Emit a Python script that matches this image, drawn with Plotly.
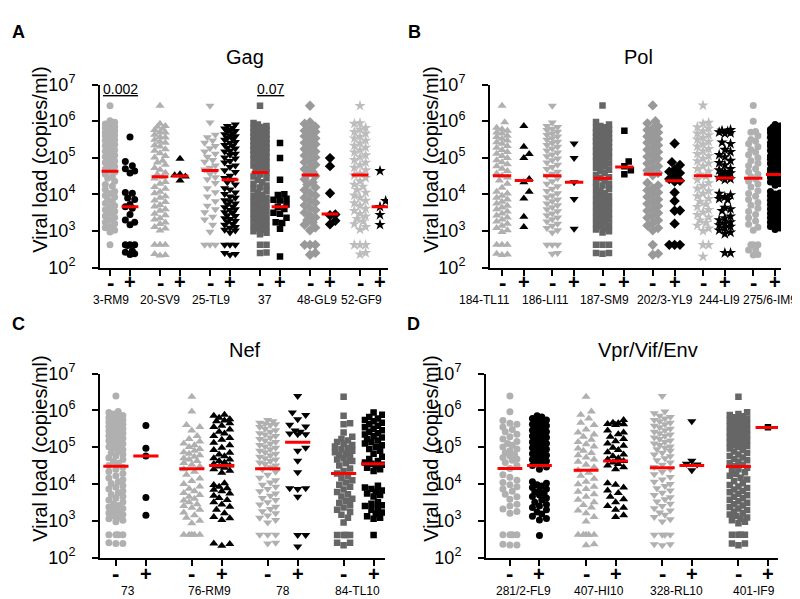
import plotly.graph_objects as go

# ---------------- DATA (viral load, log10 copies/ml) ----------------
gag_labels = ["3-RM9", "20-SV9", "25-TL9", "37", "48-GL9", "52-GF9"]
pol_labels = ["184-TL11", "186-LI11", "187-SM9", "202/3-YL9", "244-LI9", "275/6-IM9"]
nef_labels = ["73", "76-RM9", "78", "84-TL10"]
env_labels = ["281/2-FL9", "407-HI10", "328-RL10", "401-IF9"]
sign_labels = ["-", "+"]
y_tick_values = [1e2, 1e3, 1e4, 1e5, 1e6, 1e7]
y_tick_labels = ["10<sup>2</sup>", "10<sup>3</sup>", "10<sup>4</sup>", "10<sup>5</sup>", "10<sup>6</sup>", "10<sup>7</sup>"]
p_values_gag = ["0.002", "", "", "0.07", "", ""]

# Gag
gag_3RM9_neg = [6.42, 6.01, 5.97, 5.92, 5.90, 5.85, 5.81, 5.79, 5.74, 5.70, 5.68, 5.62, 5.60, 5.55, 5.49, 5.47, 5.41, 5.36, 5.33, 5.27, 5.21, 5.18, 5.11, 5.07, 5.03, 4.96, 4.91, 4.87, 4.80, 4.76, 4.69, 4.65, 4.61, 4.55, 4.48, 4.44, 4.36, 4.27, 4.22, 4.13, 4.08, 4.02, 3.97, 3.93, 3.85, 3.81, 3.76, 3.69, 3.66, 3.58, 3.53, 3.49, 3.41, 3.37, 3.31, 3.24, 3.20, 3.12, 3.09, 3.02, 2.97, 2.62]
gag_3RM9_pos = [5.57, 4.90, 4.78, 4.70, 4.64, 4.58, 4.05, 4.03, 3.90, 3.86, 3.72, 3.66, 3.62, 3.45, 3.30, 3.24, 3.17, 2.62, 2.62, 2.62, 2.60, 2.45, 2.42, 2.38, 2.36]
gag_20SV9_neg = [6.42, 5.93, 5.87, 5.85, 5.79, 5.76, 5.70, 5.69, 5.63, 5.57, 5.55, 5.49, 5.44, 5.41, 5.34, 5.31, 5.23, 5.19, 5.12, 5.05, 5.01, 4.92, 4.87, 4.81, 4.72, 4.67, 4.59, 4.54, 4.47, 4.43, 4.34, 4.29, 4.20, 4.15, 4.07, 4.03, 3.95, 3.91, 3.83, 3.79, 3.71, 3.67, 3.59, 3.55, 3.47, 3.43, 3.35, 3.31, 3.23, 3.19, 3.11, 3.07, 3.01, 2.62, 2.62, 2.62, 2.37, 2.34, 2.33]
gag_20SV9_pos = [4.97, 4.55, 4.52, 4.49, 4.38]
gag_25TL9_neg = [6.42, 5.96, 5.63, 5.56, 5.47, 5.41, 5.32, 5.26, 5.17, 5.11, 5.03, 4.94, 4.89, 4.79, 4.73, 4.68, 4.63, 4.56, 4.47, 4.41, 4.31, 4.17, 4.06, 3.94, 3.81, 3.69, 3.59, 3.51, 3.39, 3.31, 3.17, 2.98, 2.62, 2.62, 2.62]
gag_25TL9_pos = [5.91, 5.87, 5.82, 5.80, 5.76, 5.73, 5.72, 5.67, 5.64, 5.61, 5.59, 5.54, 5.51, 5.49, 5.43, 5.41, 5.35, 5.33, 5.27, 5.25, 5.19, 5.17, 5.11, 5.08, 5.01, 4.98, 4.91, 4.87, 4.79, 4.75, 4.66, 4.61, 4.51, 4.45, 4.40, 4.33, 4.27, 4.17, 4.13, 4.05, 4.01, 3.94, 3.91, 3.84, 3.81, 3.75, 3.73, 3.67, 3.65, 3.59, 3.57, 3.51, 3.49, 3.43, 3.41, 3.35, 3.33, 3.27, 3.25, 3.19, 3.17, 3.11, 3.09, 3.03, 3.01, 2.96, 2.62, 2.62, 2.62, 2.40, 2.37, 2.35]
gag_37_neg = [6.42, 5.95, 5.91, 5.87, 5.84, 5.81, 5.79, 5.75, 5.72, 5.69, 5.66, 5.63, 5.61, 5.57, 5.54, 5.51, 5.48, 5.45, 5.43, 5.39, 5.36, 5.33, 5.30, 5.27, 5.25, 5.21, 5.18, 5.15, 5.12, 5.09, 5.06, 5.02, 4.99, 4.95, 4.91, 4.87, 4.83, 4.79, 4.75, 4.71, 4.67, 4.63, 4.60, 4.54, 4.49, 4.44, 4.39, 4.33, 4.29, 4.24, 4.19, 4.13, 4.09, 4.04, 3.99, 3.95, 3.91, 3.87, 3.83, 3.79, 3.75, 3.71, 3.67, 3.63, 3.59, 3.55, 3.51, 3.47, 3.43, 3.39, 3.35, 3.31, 3.27, 3.23, 3.19, 3.15, 3.11, 3.07, 3.03, 2.99, 2.95, 2.91, 2.62, 2.62, 2.41, 2.40]
gag_37_pos = [5.40, 4.99, 4.40, 4.00, 3.98, 3.88, 3.85, 3.83, 3.72, 3.66, 3.60, 3.50, 3.47, 3.36, 3.24, 3.22, 3.06, 2.30]
gag_48GL9_neg = [6.42, 5.97, 5.93, 5.85, 5.80, 5.74, 5.71, 5.63, 5.59, 5.53, 5.47, 5.41, 5.37, 5.30, 5.24, 5.17, 5.13, 5.06, 5.01, 4.93, 4.88, 4.81, 4.74, 4.69, 4.61, 4.55, 4.50, 4.41, 4.33, 4.27, 4.19, 4.12, 4.04, 3.97, 3.91, 3.83, 3.77, 3.70, 3.63, 3.57, 3.50, 3.43, 3.37, 3.30, 3.23, 3.17, 3.09, 3.02, 2.62, 2.62, 2.62, 2.40, 2.35]
gag_48GL9_pos = [4.99, 4.77, 4.03, 3.45, 3.43, 3.28, 3.18]
gag_52GF9_neg = [6.42, 5.95, 5.93, 5.82, 5.77, 5.71, 5.66, 5.58, 5.53, 5.47, 5.40, 5.33, 5.28, 5.21, 5.15, 5.07, 5.02, 4.94, 4.87, 4.80, 4.73, 4.66, 4.57, 4.52, 4.45, 4.36, 4.27, 4.21, 4.12, 4.05, 3.97, 3.91, 3.83, 3.76, 3.69, 3.61, 3.55, 3.47, 3.40, 3.33, 3.26, 3.19, 3.11, 3.04, 2.62, 2.62, 2.62, 2.40, 2.36]
gag_52GF9_pos = [4.64, 3.82, 3.66, 3.44, 3.17]
gag_medians = [4.63, 3.66, 4.48, 4.50, 4.65, 4.40, 4.60, 3.66, 4.53, 3.46, 4.53, 3.66]

# Pol
pol_184_neg = [6.42, 5.97, 5.82, 5.78, 5.74, 5.69, 5.66, 5.60, 5.57, 5.52, 5.47, 5.42, 5.38, 5.32, 5.27, 5.21, 5.16, 5.11, 5.05, 4.99, 4.93, 4.88, 4.82, 4.77, 4.70, 4.64, 4.57, 4.51, 4.46, 4.38, 4.29, 4.18, 4.07, 4.02, 3.96, 3.91, 3.86, 3.80, 3.75, 3.69, 3.64, 3.59, 3.53, 3.48, 3.42, 3.37, 3.31, 3.26, 3.20, 3.14, 3.08, 3.02, 2.97, 2.62, 2.62, 2.62, 2.38, 2.36, 2.34]
pol_184_pos = [5.87, 5.30, 5.10, 4.99, 4.42, 4.33, 4.07, 3.89, 3.39, 3.11]
pol_186_neg = [6.42, 5.96, 5.87, 5.84, 5.79, 5.76, 5.71, 5.66, 5.62, 5.58, 5.53, 5.49, 5.44, 5.40, 5.35, 5.30, 5.25, 5.20, 5.14, 5.09, 5.04, 4.98, 4.93, 4.87, 4.81, 4.75, 4.69, 4.62, 4.56, 4.51, 4.44, 4.36, 4.29, 4.22, 4.15, 4.09, 4.03, 3.97, 3.92, 3.86, 3.81, 3.75, 3.70, 3.65, 3.59, 3.54, 3.48, 3.43, 3.37, 3.32, 3.26, 3.20, 3.14, 3.08, 3.02, 2.96, 2.62, 2.62, 2.62, 2.40, 2.38]
pol_186_pos = [5.39, 4.99, 4.33, 3.87, 3.06]
pol_187_neg = [6.43, 5.98, 5.91, 5.87, 5.83, 5.81, 5.77, 5.75, 5.71, 5.69, 5.66, 5.62, 5.60, 5.57, 5.53, 5.51, 5.47, 5.45, 5.42, 5.38, 5.36, 5.32, 5.29, 5.25, 5.22, 5.18, 5.15, 5.12, 5.08, 5.04, 5.01, 4.97, 4.92, 4.89, 4.84, 4.81, 4.76, 4.72, 4.67, 4.63, 4.58, 4.53, 4.47, 4.44, 4.38, 4.34, 4.28, 4.24, 4.18, 4.14, 4.09, 4.04, 4.00, 3.95, 3.92, 3.87, 3.84, 3.79, 3.76, 3.71, 3.68, 3.63, 3.60, 3.55, 3.52, 3.47, 3.44, 3.39, 3.36, 3.31, 3.28, 3.23, 3.20, 3.15, 3.12, 3.07, 3.04, 2.99, 2.96, 2.62, 2.62, 2.62, 2.40, 2.40, 2.38]
pol_187_pos = [5.74, 4.90, 4.77, 4.66, 4.55]
pol_202_neg = [6.43, 6.00, 5.94, 5.86, 5.80, 5.76, 5.69, 5.63, 5.58, 5.51, 5.46, 5.41, 5.34, 5.28, 5.22, 5.16, 5.09, 5.03, 4.97, 4.90, 4.84, 4.77, 4.71, 4.65, 4.58, 4.52, 4.31, 4.24, 4.17, 4.11, 4.05, 3.99, 3.93, 3.86, 3.80, 3.74, 3.68, 3.61, 3.55, 3.49, 3.42, 3.36, 3.29, 3.22, 3.15, 3.08, 3.02, 2.62, 2.38, 2.35]
pol_202_pos = [5.39, 4.88, 4.80, 4.68, 4.62, 4.58, 4.50, 4.42, 4.37, 4.35, 4.05, 3.82, 3.56, 3.55, 3.20, 2.62, 2.62, 2.62]
pol_244_neg = [6.43, 5.96, 5.93, 5.84, 5.80, 5.73, 5.67, 5.62, 5.55, 5.50, 5.44, 5.37, 5.31, 5.24, 5.18, 5.11, 5.05, 4.98, 4.91, 4.85, 4.77, 4.70, 4.63, 4.55, 4.49, 4.40, 4.31, 4.23, 4.16, 4.09, 4.02, 3.95, 3.88, 3.80, 3.73, 3.66, 3.58, 3.51, 3.44, 3.37, 3.29, 3.22, 3.15, 3.07, 3.00, 2.62, 2.62, 2.30]
pol_244_pos = [5.76, 5.74, 5.72, 5.70, 5.68, 5.66, 5.42, 5.38, 5.22, 5.16, 5.08, 5.02, 4.92, 4.86, 4.80, 4.70, 4.66, 4.62, 4.58, 4.54, 4.50, 4.46, 4.42, 4.40, 4.02, 3.98, 3.93, 3.88, 3.85, 3.64, 3.60, 3.55, 3.40, 3.35, 3.30, 3.24, 3.20, 3.16, 3.12, 3.08, 3.02, 2.96, 2.92, 2.40, 2.40]
pol_275_neg = [6.43, 6.00, 5.72, 5.70, 5.60, 5.50, 5.45, 5.38, 5.30, 5.22, 5.15, 5.08, 5.00, 4.92, 4.85, 4.78, 4.70, 4.62, 4.55, 4.48, 4.42, 4.36, 4.28, 4.20, 4.10, 4.02, 3.95, 3.86, 3.78, 3.70, 3.62, 3.53, 3.45, 3.36, 3.27, 3.18, 3.10, 3.02, 2.62, 2.62, 2.62, 2.50, 2.48, 2.36, 2.34]
pol_275_pos = [5.91, 5.87, 5.83, 5.81, 5.77, 5.74, 5.72, 5.68, 5.65, 5.63, 5.59, 5.56, 5.54, 5.50, 5.47, 5.45, 5.41, 5.38, 5.36, 5.32, 5.29, 5.27, 5.23, 5.20, 5.18, 5.14, 5.11, 5.09, 5.05, 5.02, 5.00, 4.96, 4.93, 4.91, 4.87, 4.84, 4.82, 4.78, 4.75, 4.73, 4.69, 4.66, 4.64, 4.60, 4.57, 4.55, 4.51, 4.48, 4.46, 4.41, 4.37, 4.34, 4.29, 4.25, 4.08, 4.04, 4.01, 3.96, 3.92, 3.89, 3.84, 3.80, 3.77, 3.72, 3.68, 3.65, 3.60, 3.56, 3.53, 3.48, 3.44, 3.41, 3.36, 3.32, 3.29, 3.24, 3.20, 3.17, 3.12, 3.08, 3.04]
pol_medians = [4.51, 4.38, 4.51, 4.33, 4.44, 4.75, 4.55, 4.37, 4.51, 4.45, 4.44, 4.54]

# Nef
nef_73_neg = [6.39, 5.97, 5.94, 5.90, 5.86, 5.84, 5.80, 5.77, 5.74, 5.71, 5.68, 5.65, 5.62, 5.59, 5.56, 5.53, 5.50, 5.47, 5.44, 5.41, 5.38, 5.35, 5.31, 5.28, 5.24, 5.21, 5.17, 5.13, 5.09, 5.05, 5.01, 4.97, 4.93, 4.89, 4.85, 4.80, 4.76, 4.71, 4.66, 4.61, 4.56, 4.50, 4.45, 4.40, 4.34, 4.28, 4.22, 4.16, 4.11, 4.06, 4.01, 3.96, 3.91, 3.86, 3.81, 3.76, 3.71, 3.66, 3.61, 3.56, 3.51, 3.46, 3.41, 3.37, 3.33, 3.29, 3.25, 3.21, 3.17, 3.13, 3.09, 3.05, 3.01, 2.97, 2.62, 2.62, 2.62, 2.62, 2.40, 2.38, 2.38]
nef_73_pos = [5.59, 4.97, 4.76, 3.63, 3.15]
nef_76_neg = [6.37, 5.97, 5.60, 5.55, 5.45, 5.30, 5.22, 5.15, 5.10, 5.05, 5.00, 4.95, 4.90, 4.86, 4.82, 4.78, 4.74, 4.70, 4.66, 4.62, 4.57, 4.52, 4.47, 4.40, 4.33, 4.25, 4.15, 4.08, 4.00, 3.93, 3.87, 3.80, 3.75, 3.70, 3.65, 3.60, 3.55, 3.50, 3.45, 3.40, 3.35, 3.30, 3.22, 3.15, 3.08, 3.00, 2.93, 2.62, 2.62, 2.62, 2.62, 2.62]
nef_76_pos = [5.88, 5.85, 5.80, 5.76, 5.72, 5.70, 5.65, 5.58, 5.55, 5.48, 5.42, 5.37, 5.30, 5.25, 5.20, 5.12, 5.05, 4.98, 4.92, 4.85, 4.80, 4.75, 4.70, 4.66, 4.62, 4.58, 4.54, 4.50, 4.47, 4.44, 4.40, 4.36, 4.30, 4.02, 3.97, 3.92, 3.88, 3.84, 3.80, 3.74, 3.68, 3.62, 3.56, 3.50, 3.44, 3.38, 3.30, 3.20, 3.10, 3.07, 3.02, 2.38, 2.32, 2.37]
nef_78_neg = [5.74, 5.70, 5.66, 5.64, 5.62, 5.60, 5.55, 5.50, 5.46, 5.42, 5.38, 5.34, 5.30, 5.26, 5.22, 5.18, 5.14, 5.10, 5.06, 5.02, 4.98, 4.94, 4.90, 4.86, 4.82, 4.78, 4.74, 4.70, 4.66, 4.62, 4.58, 4.54, 4.50, 4.45, 4.40, 4.33, 4.25, 4.17, 4.10, 4.04, 3.98, 3.92, 3.86, 3.80, 3.74, 3.68, 3.62, 3.56, 3.50, 3.44, 3.38, 3.32, 3.26, 3.20, 3.14, 3.08, 3.02, 2.95, 2.62, 2.62, 2.62, 2.40, 2.38]
nef_78_pos = [6.39, 5.94, 5.87, 5.76, 5.61, 5.56, 5.45, 5.42, 5.37, 5.35, 5.35, 4.98, 4.90, 4.63, 4.32, 3.88, 3.88, 3.86, 3.65, 2.61, 2.61, 2.30]
nef_84_neg = [6.37, 5.85, 5.65, 5.62, 5.40, 5.28, 5.22, 5.18, 5.14, 5.10, 5.06, 5.02, 4.98, 4.94, 4.90, 4.86, 4.82, 4.78, 4.74, 4.70, 4.66, 4.62, 4.56, 4.50, 4.42, 4.35, 4.28, 4.22, 4.16, 4.10, 4.04, 3.98, 3.92, 3.85, 3.78, 3.72, 3.66, 3.60, 3.54, 3.48, 3.42, 3.36, 3.30, 3.24, 3.16, 3.08, 2.95, 2.61, 2.61, 2.61, 2.61, 2.40, 2.33, 2.40]
nef_84_pos = [5.94, 5.88, 5.82, 5.78, 5.74, 5.70, 5.66, 5.62, 5.58, 5.54, 5.50, 5.46, 5.42, 5.38, 5.34, 5.30, 5.26, 5.22, 5.18, 5.14, 5.10, 5.05, 5.00, 4.95, 4.90, 4.82, 4.74, 4.68, 4.62, 4.58, 4.55, 4.52, 4.48, 4.44, 4.40, 4.35, 3.95, 3.90, 3.86, 3.82, 3.78, 3.74, 3.70, 3.66, 3.50, 3.46, 3.42, 3.40, 3.35, 3.30, 3.22, 3.18, 3.12, 3.08, 3.05, 2.61]
nef_medians = [4.48, 4.76, 4.41, 4.50, 4.41, 5.13, 4.28, 4.55]

# Vpr/Vif/Env
env_281_neg = [6.39, 5.96, 5.72, 5.65, 5.62, 5.55, 5.48, 5.42, 5.35, 5.28, 5.22, 5.15, 5.10, 5.05, 5.00, 4.95, 4.90, 4.85, 4.80, 4.76, 4.72, 4.68, 4.64, 4.58, 4.50, 4.42, 4.25, 4.18, 4.10, 4.04, 3.98, 3.92, 3.86, 3.80, 3.72, 3.65, 3.58, 3.45, 3.40, 3.32, 3.25, 3.20, 2.62, 2.62, 2.62, 2.62, 2.36, 2.34, 2.34]
env_281_pos = [5.85, 5.82, 5.78, 5.74, 5.70, 5.66, 5.62, 5.58, 5.54, 5.50, 5.46, 5.42, 5.38, 5.34, 5.30, 5.26, 5.22, 5.18, 5.14, 5.10, 5.06, 5.02, 4.98, 4.94, 4.90, 4.86, 4.82, 4.78, 4.74, 4.70, 4.66, 4.62, 4.58, 4.54, 4.50, 4.46, 4.40, 4.06, 4.02, 3.98, 3.94, 3.90, 3.86, 3.82, 3.78, 3.74, 3.70, 3.66, 3.62, 3.56, 3.50, 3.44, 3.40, 3.36, 3.30, 3.24, 3.18, 3.12, 3.06, 3.02, 2.60]
env_407_neg = [6.37, 5.97, 5.88, 5.78, 5.66, 5.60, 5.48, 5.40, 5.34, 5.28, 5.20, 5.14, 5.08, 5.02, 4.96, 4.90, 4.84, 4.78, 4.72, 4.66, 4.60, 4.52, 4.45, 4.37, 4.30, 4.22, 4.14, 4.06, 3.99, 3.92, 3.86, 3.79, 3.72, 3.65, 3.57, 3.50, 3.43, 3.36, 3.28, 3.20, 3.10, 2.98, 2.62, 2.62, 2.62, 2.62, 2.62, 2.36, 2.33]
env_407_pos = [5.74, 5.66, 5.65, 5.63, 5.62, 5.60, 5.45, 5.40, 5.35, 5.28, 5.22, 5.16, 5.10, 5.04, 4.98, 4.92, 4.86, 4.80, 4.75, 4.70, 4.66, 4.62, 4.58, 4.54, 4.50, 4.45, 4.40, 4.02, 3.98, 3.90, 3.82, 3.75, 3.65, 3.58, 3.50, 3.40, 3.35, 3.30, 3.15, 3.10]
env_328_neg = [6.39, 5.97, 5.92, 5.85, 5.82, 5.78, 5.74, 5.70, 5.66, 5.62, 5.58, 5.54, 5.50, 5.46, 5.42, 5.38, 5.34, 5.30, 5.26, 5.22, 5.18, 5.14, 5.10, 5.06, 5.02, 4.98, 4.94, 4.90, 4.85, 4.80, 4.75, 4.70, 4.64, 4.58, 4.52, 4.46, 4.40, 4.33, 4.26, 4.19, 4.12, 4.06, 4.00, 3.94, 3.88, 3.82, 3.76, 3.70, 3.64, 3.58, 3.52, 3.46, 3.40, 3.34, 3.28, 3.22, 3.16, 3.10, 3.04, 2.98, 2.62, 2.62, 2.62, 2.62, 2.36, 2.33, 2.36]
env_328_pos = [5.70, 4.63, 4.55, 4.53, 4.37]
env_401_neg = [6.37, 5.95, 5.90, 5.87, 5.84, 5.81, 5.78, 5.75, 5.72, 5.69, 5.66, 5.63, 5.60, 5.57, 5.54, 5.51, 5.48, 5.45, 5.42, 5.39, 5.36, 5.33, 5.30, 5.27, 5.24, 5.21, 5.18, 5.15, 5.12, 5.09, 5.06, 5.03, 5.00, 4.96, 4.92, 4.88, 4.84, 4.80, 4.76, 4.72, 4.68, 4.64, 4.60, 4.56, 4.52, 4.48, 4.44, 4.40, 4.36, 4.32, 4.27, 4.22, 4.17, 4.12, 4.07, 4.02, 3.97, 3.93, 3.89, 3.85, 3.81, 3.77, 3.73, 3.69, 3.65, 3.61, 3.57, 3.53, 3.49, 3.45, 3.41, 3.37, 3.33, 3.29, 3.25, 3.21, 3.17, 3.13, 3.09, 3.05, 3.01, 2.97, 2.93, 2.62, 2.62, 2.62, 2.62, 2.38, 2.33, 2.38]
env_401_pos = [5.54]
env_medians = [4.42, 4.50, 4.37, 4.62, 4.44, 4.50, 4.47, 5.53]

# ---------------- STYLES ----------------
LG, MG, DG, SG, BK = "#b0b0b0", "#999999", "#666666", "#bdbdbd", "#000000"
RED = "#ff0000"
FONT = "Arial, Liberation Sans, sans-serif"
W, H = 800, 599

panels = [
    dict(letter="A", title="Gag", labels=gag_labels, medians=gag_medians,
         cols=[(gag_3RM9_neg, gag_3RM9_pos), (gag_20SV9_neg, gag_20SV9_pos), (gag_25TL9_neg, gag_25TL9_pos),
               (gag_37_neg, gag_37_pos), (gag_48GL9_neg, gag_48GL9_pos), (gag_52GF9_neg, gag_52GF9_pos)],
         symbols=["circle", "triangle-up", "triangle-down", "square", "diamond", "star"],
         negcolors=[LG, LG, LG, DG, MG, SG],
         px=(92, 380), py=(67, 257), pair=2.5, xr=(-0.5, 13.9),
         labx=[103, 152, 202.5, 257, 309, 353], laby=291, signy=272, titlexy=(237, 38), ytx=32, yty=145,
         letterxy=(2, 12), maxoff=6.5, lw=0.42),
    dict(letter="B", title="Pol", labels=pol_labels, medians=pol_medians,
         cols=[(pol_184_neg, pol_184_pos), (pol_186_neg, pol_186_pos), (pol_187_neg, pol_187_pos),
               (pol_202_neg, pol_202_pos), (pol_244_neg, pol_244_pos), (pol_275_neg, pol_275_pos)],
         symbols=["triangle-up", "triangle-down", "square", "diamond", "star", "circle"],
         negcolors=[LG, LG, DG, MG, SG, LG],
         px=(482, 773), py=(67, 257), pair=2.3, xr=(-0.55, 12.77),
         labx=[476, 537, 596, 657, 711, 762], laby=291, signy=272, titlexy=(630, 38), ytx=423, yty=145,
         letterxy=(398, 12), maxoff=6.5, lw=0.42),
    dict(letter="C", title="Nef", labels=nef_labels, medians=nef_medians,
         cols=[(nef_73_neg, nef_73_pos), (nef_76_neg, nef_76_pos), (nef_78_neg, nef_78_pos), (nef_84_neg, nef_84_pos)],
         symbols=["circle", "triangle-up", "triangle-down", "square"],
         negcolors=[LG, LG, LG, DG],
         px=(92, 377), py=(367, 558), pair=2.53, xr=(-0.53, 8.97),
         labx=[120, 201.5, 275, 349], laby=593, signy=575, titlexy=(237, 343), ytx=32, yty=445,
         letterxy=(2, 316), maxoff=9, lw=0.42),
    dict(letter="D", title="Vpr/Vif/Env", labels=env_labels, medians=env_medians,
         cols=[(env_281_neg, env_281_pos), (env_407_neg, env_407_pos), (env_328_neg, env_328_pos), (env_401_neg, env_401_pos)],
         symbols=["circle", "triangle-up", "triangle-down", "square"],
         negcolors=[LG, LG, LG, DG],
         px=(478, 770), py=(367, 558), pair=2.58, xr=(-0.81, 9.08),
         labx=[515.5, 591, 668, 746], laby=593, signy=575, titlexy=(640, 343), ytx=423, yty=445,
         letterxy=(397, 316), maxoff=9, lw=0.42),
]

SIZES = {"circle": 7, "square": 6.5, "triangle-up": 8, "triangle-down": 8, "diamond": 8, "star": 8.5}


def swarm(vals, ppd, ppu, d, maxoff):
    """Deterministic beeswarm offsets (in x data units) for a column of log values."""
    n = len(vals)
    ys = [v * ppd for v in vals]
    order = sorted(range(n), key=lambda i: ys[i])
    step = d / 3.0
    kmax = int(maxoff / step)
    cands = [0.0]
    for k in range(1, kmax + 1):
        cands += [k * step, -k * step]
    placed, offs = [], [0.0] * n
    for i in order:
        y = ys[i]
        near = [(a, b) for (a, b) in placed if abs(b - y) < d]
        best, bests = 0.0, -1.0
        for c in cands:
            m = min((((c - a) ** 2 + (y - b) ** 2) ** 0.5 for a, b in near), default=1e9)
            if m >= d * 0.95:
                best = c
                break
            if m > bests + 1e-9:
                best, bests = c, m
        placed.append((best, y))
        offs[i] = best / ppu
    return offs


fig = go.Figure()
annotations = []

for k, p in enumerate(panels):
    sfx = "" if k == 0 else str(k + 1)
    xa, ya = "x" + sfx, "y" + sfx
    x0, x1 = p["px"]
    y0, y1 = p["py"]
    ppu = (x1 - x0) / (p["xr"][1] - p["xr"][0])
    ppd = (y1 - y0) / 5.0
    positions, signs = [], []
    for i in range(len(p["labels"])):
        for j in range(2):
            positions.append(p["pair"] * i + j)
            signs.append(sign_labels[j])
    # points
    for i, (neg, pos) in enumerate(p["cols"]):
        sym = p["symbols"][i]
        for j, (vals, col) in enumerate([(neg, p["negcolors"][i]), (pos, BK)]):
            c = positions[2 * i + j]
            offs = swarm(vals, ppd, ppu, SIZES[sym], p["maxoff"])
            fig.add_trace(go.Scatter(
                x=[c + o for o in offs], y=[10 ** v for v in vals], mode="markers",
                marker=dict(symbol=sym, size=SIZES[sym], color=col, line=dict(width=0)),
                xaxis=xa, yaxis=ya, showlegend=False, hoverinfo="skip"))
    # medians
    mx, my = [], []
    for c, m in zip(positions, p["medians"]):
        mx += [c - p["lw"], c + p["lw"], None]
        my += [10 ** m, 10 ** m, None]
    fig.add_trace(go.Scatter(x=mx, y=my, mode="lines", line=dict(color=RED, width=3),
                             xaxis=xa, yaxis=ya, showlegend=False, hoverinfo="skip"))

    fig.layout["xaxis" + sfx] = dict(
        domain=[x0 / W, x1 / W], range=list(p["xr"]), anchor=ya,
        showline=True, linecolor="black", linewidth=2, ticks="outside", ticklen=6, tickwidth=2,
        tickcolor="black", tickvals=positions, showticklabels=False, showgrid=False, zeroline=False,
        fixedrange=True)
    fig.layout["yaxis" + sfx] = dict(
        domain=[1 - y1 / H, 1 - y0 / H], type="log", range=[2, 7], anchor=xa,
        showline=True, linecolor="black", linewidth=2, ticks="outside", ticklen=6, tickwidth=2,
        tickcolor="black", tickvals=y_tick_values, ticktext=y_tick_labels, showgrid=False, zeroline=False,
        tickfont=dict(family=FONT, size=18, color="black"), ticklabelstandoff=13, fixedrange=True)

    # "-" / "+" group signs under each column
    for c, s in zip(positions, signs):
        annotations.append(dict(text="<b>%s</b>" % s, x=c, y=1 - p["signy"] / H, xref=xa, yref="paper",
                                xanchor="center", yanchor="middle", showarrow=False,
                                font=dict(family=FONT, size=22 if s == "-" else 20, color="black")))
    # text
    annotations.append(dict(text="<b>%s</b>" % p["letter"], x=p["letterxy"][0] / W, y=1 - p["letterxy"][1] / H,
                            xref="paper", yref="paper", xanchor="left", yanchor="middle", showarrow=False,
                            font=dict(family=FONT, size=18, color="black")))
    annotations.append(dict(text=p["title"], x=p["titlexy"][0] / W, y=1 - p["titlexy"][1] / H,
                            xref="paper", yref="paper", xanchor="center", yanchor="middle", showarrow=False,
                            font=dict(family=FONT, size=20, color="black")))
    annotations.append(dict(text="Viral load (copies/ml)", x=p["ytx"] / W, y=1 - p["yty"] / H, textangle=-90,
                            xref="paper", yref="paper", xanchor="center", yanchor="middle", showarrow=False,
                            font=dict(family=FONT, size=20, color="black")))
    for lab, lx in zip(p["labels"], p["labx"]):
        annotations.append(dict(text=lab, x=lx / W, y=1 - p["laby"] / H, xref="paper", yref="paper",
                                xanchor="center", yanchor="middle", showarrow=False,
                                font=dict(family=FONT, size=12, color="black")))
    if k == 0:
        for i, pv in enumerate(p_values_gag):
            if pv:
                annotations.append(dict(text="<u>%s</u>" % pv, x=p["pair"] * i + 0.5, y=6.87,
                                        xref=xa, yref=ya, xanchor="center", yanchor="middle", showarrow=False,
                                        font=dict(family=FONT, size=14, color="black")))

fig.update_layout(width=W, height=H, margin=dict(l=0, r=0, t=0, b=0), autosize=False,
                  paper_bgcolor="white", plot_bgcolor="white", annotations=annotations,
                  font=dict(family=FONT, color="black"))
fig.write_html("out.html")
